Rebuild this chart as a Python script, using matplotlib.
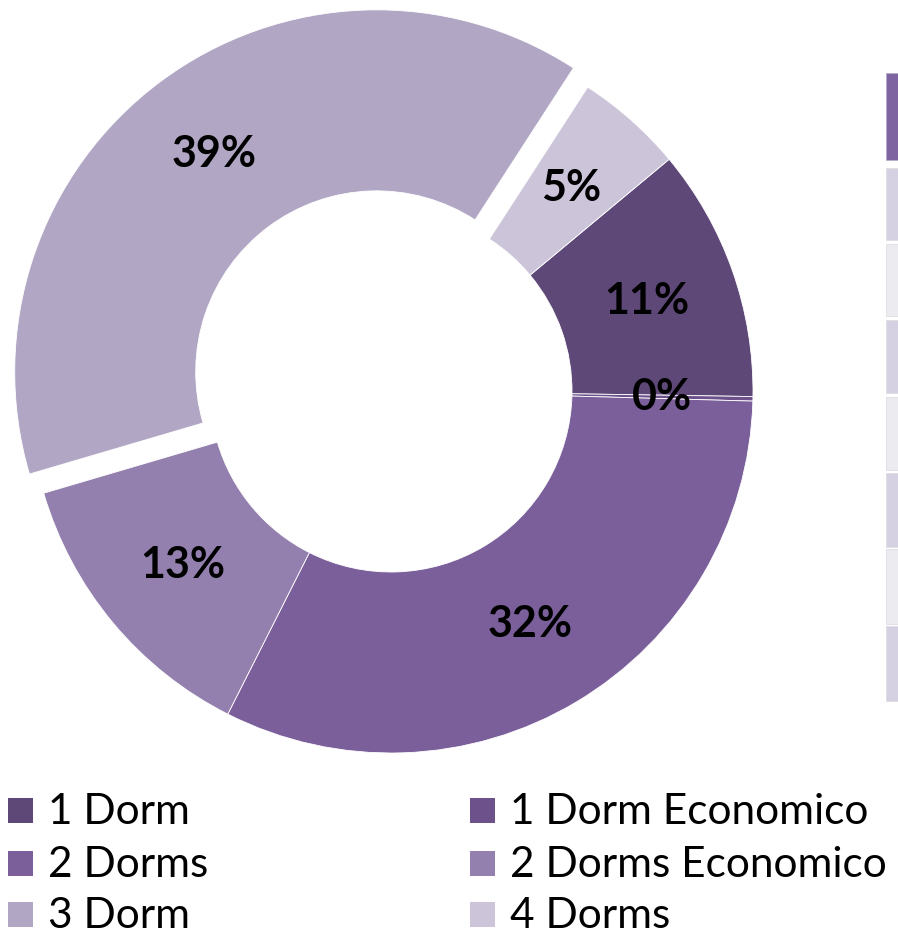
import numpy as np
import matplotlib
matplotlib.use("Agg")
import matplotlib.pyplot as plt
from matplotlib.patches import Rectangle

# data
labels = ["1 Dorm", "1 Dorm Economico", "2 Dorms", "2 Dorms Economico", "3 Dorm", "4 Dorms"]
shares = [11.3, 0.2, 32.0, 13.0, 38.7, 4.8]
colors = ["#5e4878", "#6c518b", "#7b5f9b", "#9380ae", "#b1a7c4", "#ccc5d9"]
explode = [0, 0, 0, 0, 0.066, 0]

W, H = 898, 934
fig = plt.figure(figsize=(W / 100, H / 100), dpi=100)

# pie geometry in pixels (from top-left)
cx, cy, R = 391, 391, 362
top, bot = 12, 770
ax = fig.add_axes([0, (H - bot) / H, 1, (bot - top) / H])

wedges, texts, autotexts = ax.pie(
    shares, colors=colors, explode=explode, startangle=39.8, counterclock=False,
    radius=1, autopct="%.0f%%", pctdistance=0.75,
    wedgeprops=dict(width=0.5, edgecolor="white", linewidth=0.6),
    textprops=dict(fontsize=31, fontweight="bold", family="Lato", color="black"))
ax.set_aspect("auto")
ax.set_xlim(-cx / R, (W - cx) / R)
ax.set_ylim((cy - bot) / R, (cy - top) / R)
ax.axis("off")

# clipped table on the right edge
def px_rect(x0, y0, x1, y1, fc, ec="none"):
    fig.patches.append(Rectangle((x0 / W, 1 - y1 / H), (x1 - x0) / W, (y1 - y0) / H,
                                 transform=fig.transFigure, facecolor=fc, edgecolor=ec, lw=0.6))

px_rect(886, 73, 899, 160, "#7e64a0", "#b8aecb")
rows = [(168, 240), (244, 316), (320, 393), (397, 470), (473, 547), (549, 624), (626, 701)]
for i, (y0, y1) in enumerate(rows):
    px_rect(886, y0, 899, y1, "#d5d1e3" if i % 2 == 0 else "#ecebf0", "#dedde3")

# legend, row-major in two columns
col_x = [8, 470]
row_y = [810, 863, 914]
for i, lab in enumerate(labels):
    x = col_x[i % 2]
    y = row_y[i // 2]
    px_rect(x, y - 12.5, x + 25, y + 12.5, colors[i])
    fig.text((x + 40) / W, 1 - (y + 14) / H, lab, fontsize=30.5, family="Lato",
             va="baseline", ha="left", color="black")

fig.savefig("out.png", dpi=100)
